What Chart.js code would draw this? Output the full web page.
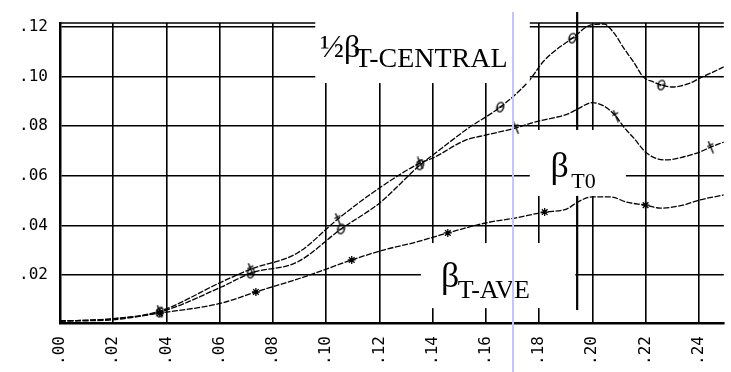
<!doctype html>
<html>
<head>
	<title>Beta curves</title>
	<script src="https://cdn.jsdelivr.net/npm/chart.js@4.4.0/dist/chart.umd.min.js"></script>
	<style>
	body { margin: 0; background: #fff; }
	canvas { display: block; }
	</style>
</head>
<body>
	<canvas id="canvas" width="731" height="372"></canvas>
	<script>
		const xTicks = [0, .02, .04, .06, .08, .10, .12, .14, .16, .18, .20, .22, .24];
		const yTicks = [.02, .04, .06, .08, .10, .12];

		// half beta, T-central
		const centralX = [0, .0186, .0375, .0606, .0717, .0892, .1056, .1200, .1353, .1401, .1535, .1654, .1758, .1821, .1925, .1995, .2044, .2081, .2118, .2155, .2192, .2230, .2259, .2304, .2367, .2404, .2453, .2494];
		const centralY = [.0015, .0023, .0051, .0152, .0208, .0253, .0386, .0490, .0644, .0684, .0793, .0877, .0978, .1067, .1155, .1208, .1212, .1176, .1115, .1059, .0998, .0978, .0966, .0958, .0974, .0994, .1018, .1039];
		const centralMarks = [2, 4, 6, 8, 11, 14, 22];

		// beta T0
		const t0X = [0, .0186, .0375, .0606, .0717, .0892, .1044, .1200, .1353, .1401, .1524, .1598, .1713, .1784, .1906, .1944, .1999, .2044, .2088, .2118, .2155, .2204, .2274, .2341, .2404, .2445, .2494];
		const t0Y = [.0015, .0023, .0055, .0172, .0224, .0289, .0426, .0551, .0652, .0672, .0744, .0764, .0793, .0817, .0849, .0869, .0895, .0881, .0841, .0797, .0753, .0692, .0664, .0676, .0696, .0716, .0736];
		const t0Marks = [2, 4, 6, 8, 12, 18, 25];

		// beta T-ave
		const aveX = [0, .0186, .0375, .0606, .0736, .0929, .1096, .1215, .1338, .1457, .1598, .1709, .1821, .1903, .1944, .1999, .2070, .2129, .2200, .2256, .2341, .2404, .2494];
		const aveY = [.0015, .0019, .0047, .0087, .0132, .0197, .0261, .0301, .0333, .0370, .0410, .0430, .0454, .0466, .0494, .0515, .0515, .0494, .0482, .0470, .0482, .0503, .0523];
		const aveMarks = [2, 4, 6, 9, 12, 18];

		// curve labels: main text, subscript, anchor (data units), white box [x0, y0, x1, y1]
		const curveLabels = [
			{ main: '\u00bd\u03b2', sub: 'T-CENTRAL', x: .0977, y: .1079, subX: .1107, size: 32, subSize: 28, drop: 10, box: [.0959, .0974, .1765, .14] },
			{ main: '\u03b2', sub: 'T0', x: .1843, y: .0595, subX: .1921, size: 36, subSize: 22, drop: 11, box: [.1765, .0519, .2126, .0785] },
			{ main: '\u03b2', sub: 'T-AVE', x: .1431, y: .0152, subX: .1494, size: 36, subSize: 26, drop: 11, box: [.1356, .0067, .1936, .0329] }
		];
		const markerLine = { x: .1943, y0: .0059, y1: .126 };
		const cursorLine = { x: .1702, y0: -.03, y1: .126 };

		function mark(w, h, draw) {
			const c = document.createElement('canvas');
			c.width = w; c.height = h;
			const g = c.getContext('2d');
			g.strokeStyle = '#000'; g.lineWidth = 1.3;
			draw(g);
			return c;
		}
		const thetaMark = mark(11, 13, g => {
			g.beginPath(); g.ellipse(5.5, 6.5, 3.3, 4.8, 0.3, 0, Math.PI * 2); g.stroke();
			g.beginPath(); g.moveTo(2, 7.5); g.lineTo(9, 5.5); g.stroke();
		});
		const lambdaMark = mark(11, 13, g => {
			g.beginPath(); g.moveTo(3, 0.5); g.lineTo(8, 12.5); g.stroke();
			g.beginPath(); g.moveTo(2, 6); g.lineTo(8, 3); g.stroke();
		});

		const fmt = v => Number(v).toFixed(2).replace(/^0/, '');
		const pts = (xs, ys) => xs.map((v, i) => ({ x: v, y: ys[i] }));

		function curve(xs, ys, marks, style, r) {
			return {
				data: pts(xs, ys),
				borderColor: '#000',
				borderWidth: 1.3,
				borderDash: [6, 1.5],
				cubicInterpolationMode: 'monotone',
				pointStyle: style,
				pointRadius: c => marks.includes(c.dataIndex) ? r : 0,
				pointBorderColor: '#000',
				pointBackgroundColor: '#000',
				pointBorderWidth: 1.3,
				fill: false
			};
		}

		const notes = {
			id: 'notes',
			afterDatasetsDraw(chart) {
				const { ctx, chartArea: a } = chart;
				const X = v => chart.scales.x.getPixelForValue(v);
				const Y = v => chart.scales.y.getPixelForValue(v);
				ctx.save();
				ctx.strokeStyle = '#000';
				ctx.lineWidth = 1.6;
				ctx.beginPath(); ctx.moveTo(a.left, a.top); ctx.lineTo(a.right, a.top); ctx.stroke();

				ctx.lineWidth = 2.2;
				ctx.beginPath(); ctx.moveTo(X(markerLine.x), Y(markerLine.y1)); ctx.lineTo(X(markerLine.x), Y(markerLine.y0)); ctx.stroke();

				curveLabels.forEach(l => {
					const [x0, y0, x1, y1] = l.box;
					ctx.fillStyle = '#fff';
					ctx.fillRect(X(x0), Y(y1), X(x1) - X(x0), Y(y0) - Y(y1));
					ctx.fillStyle = '#000';
					ctx.textBaseline = 'alphabetic';
					ctx.textAlign = 'left';
					ctx.font = l.size + 'px "Liberation Serif"';
					ctx.fillText(l.main, X(l.x), Y(l.y));
					ctx.font = l.subSize + 'px "Liberation Serif"';
					ctx.fillText(l.sub, X(l.subX), Y(l.y) + l.drop);
				});

				ctx.strokeStyle = 'rgb(198, 198, 246)';
				ctx.lineWidth = 2;
				ctx.beginPath(); ctx.moveTo(X(cursorLine.x), Y(cursorLine.y1)); ctx.lineTo(X(cursorLine.x), Y(cursorLine.y0)); ctx.stroke();
				ctx.restore();
			}
		};

		const tickFont = { family: '"DejaVu Sans Mono"', size: 16 };

		new Chart(document.getElementById('canvas'), {
			type: 'line',
			data: {
				datasets: [
					curve(centralX, centralY, centralMarks, thetaMark, 4),
					curve(t0X, t0Y, t0Marks, lambdaMark, 4),
					curve(aveX, aveY, aveMarks, 'star', 4)
				]
			},
			options: {
				responsive: false,
				animation: false,
				layout: { padding: { top: 23, right: 0, left: 0, bottom: 0 } },
				plugins: { legend: { display: false }, tooltip: { enabled: false } },
				scales: {
					x: {
						type: 'linear', min: 0, max: .2494,
						afterBuildTicks: s => { s.ticks = xTicks.map(v => ({ value: v })); },
						afterFit: s => { s.height = 49; },
						grid: { color: '#000', lineWidth: 1.6, drawTicks: false },
						border: { color: '#000', width: 2.5 },
						ticks: { autoSkip: false, minRotation: 90, maxRotation: 90, padding: 13, color: '#000', font: tickFont, callback: v => fmt(v) }
					},
					y: {
						min: .0007, max: .1216,
						afterBuildTicks: s => { s.ticks = yTicks.map(v => ({ value: v })); },
						afterFit: s => { s.width = 60; },
						grid: { color: '#000', lineWidth: 1.6, drawTicks: false },
						border: { color: '#000', width: 2.5 },
						ticks: { padding: 12, color: '#000', font: tickFont, callback: v => fmt(v) }
					}
				}
			},
			plugins: [notes]
		});
	</script>
</body>
</html>
